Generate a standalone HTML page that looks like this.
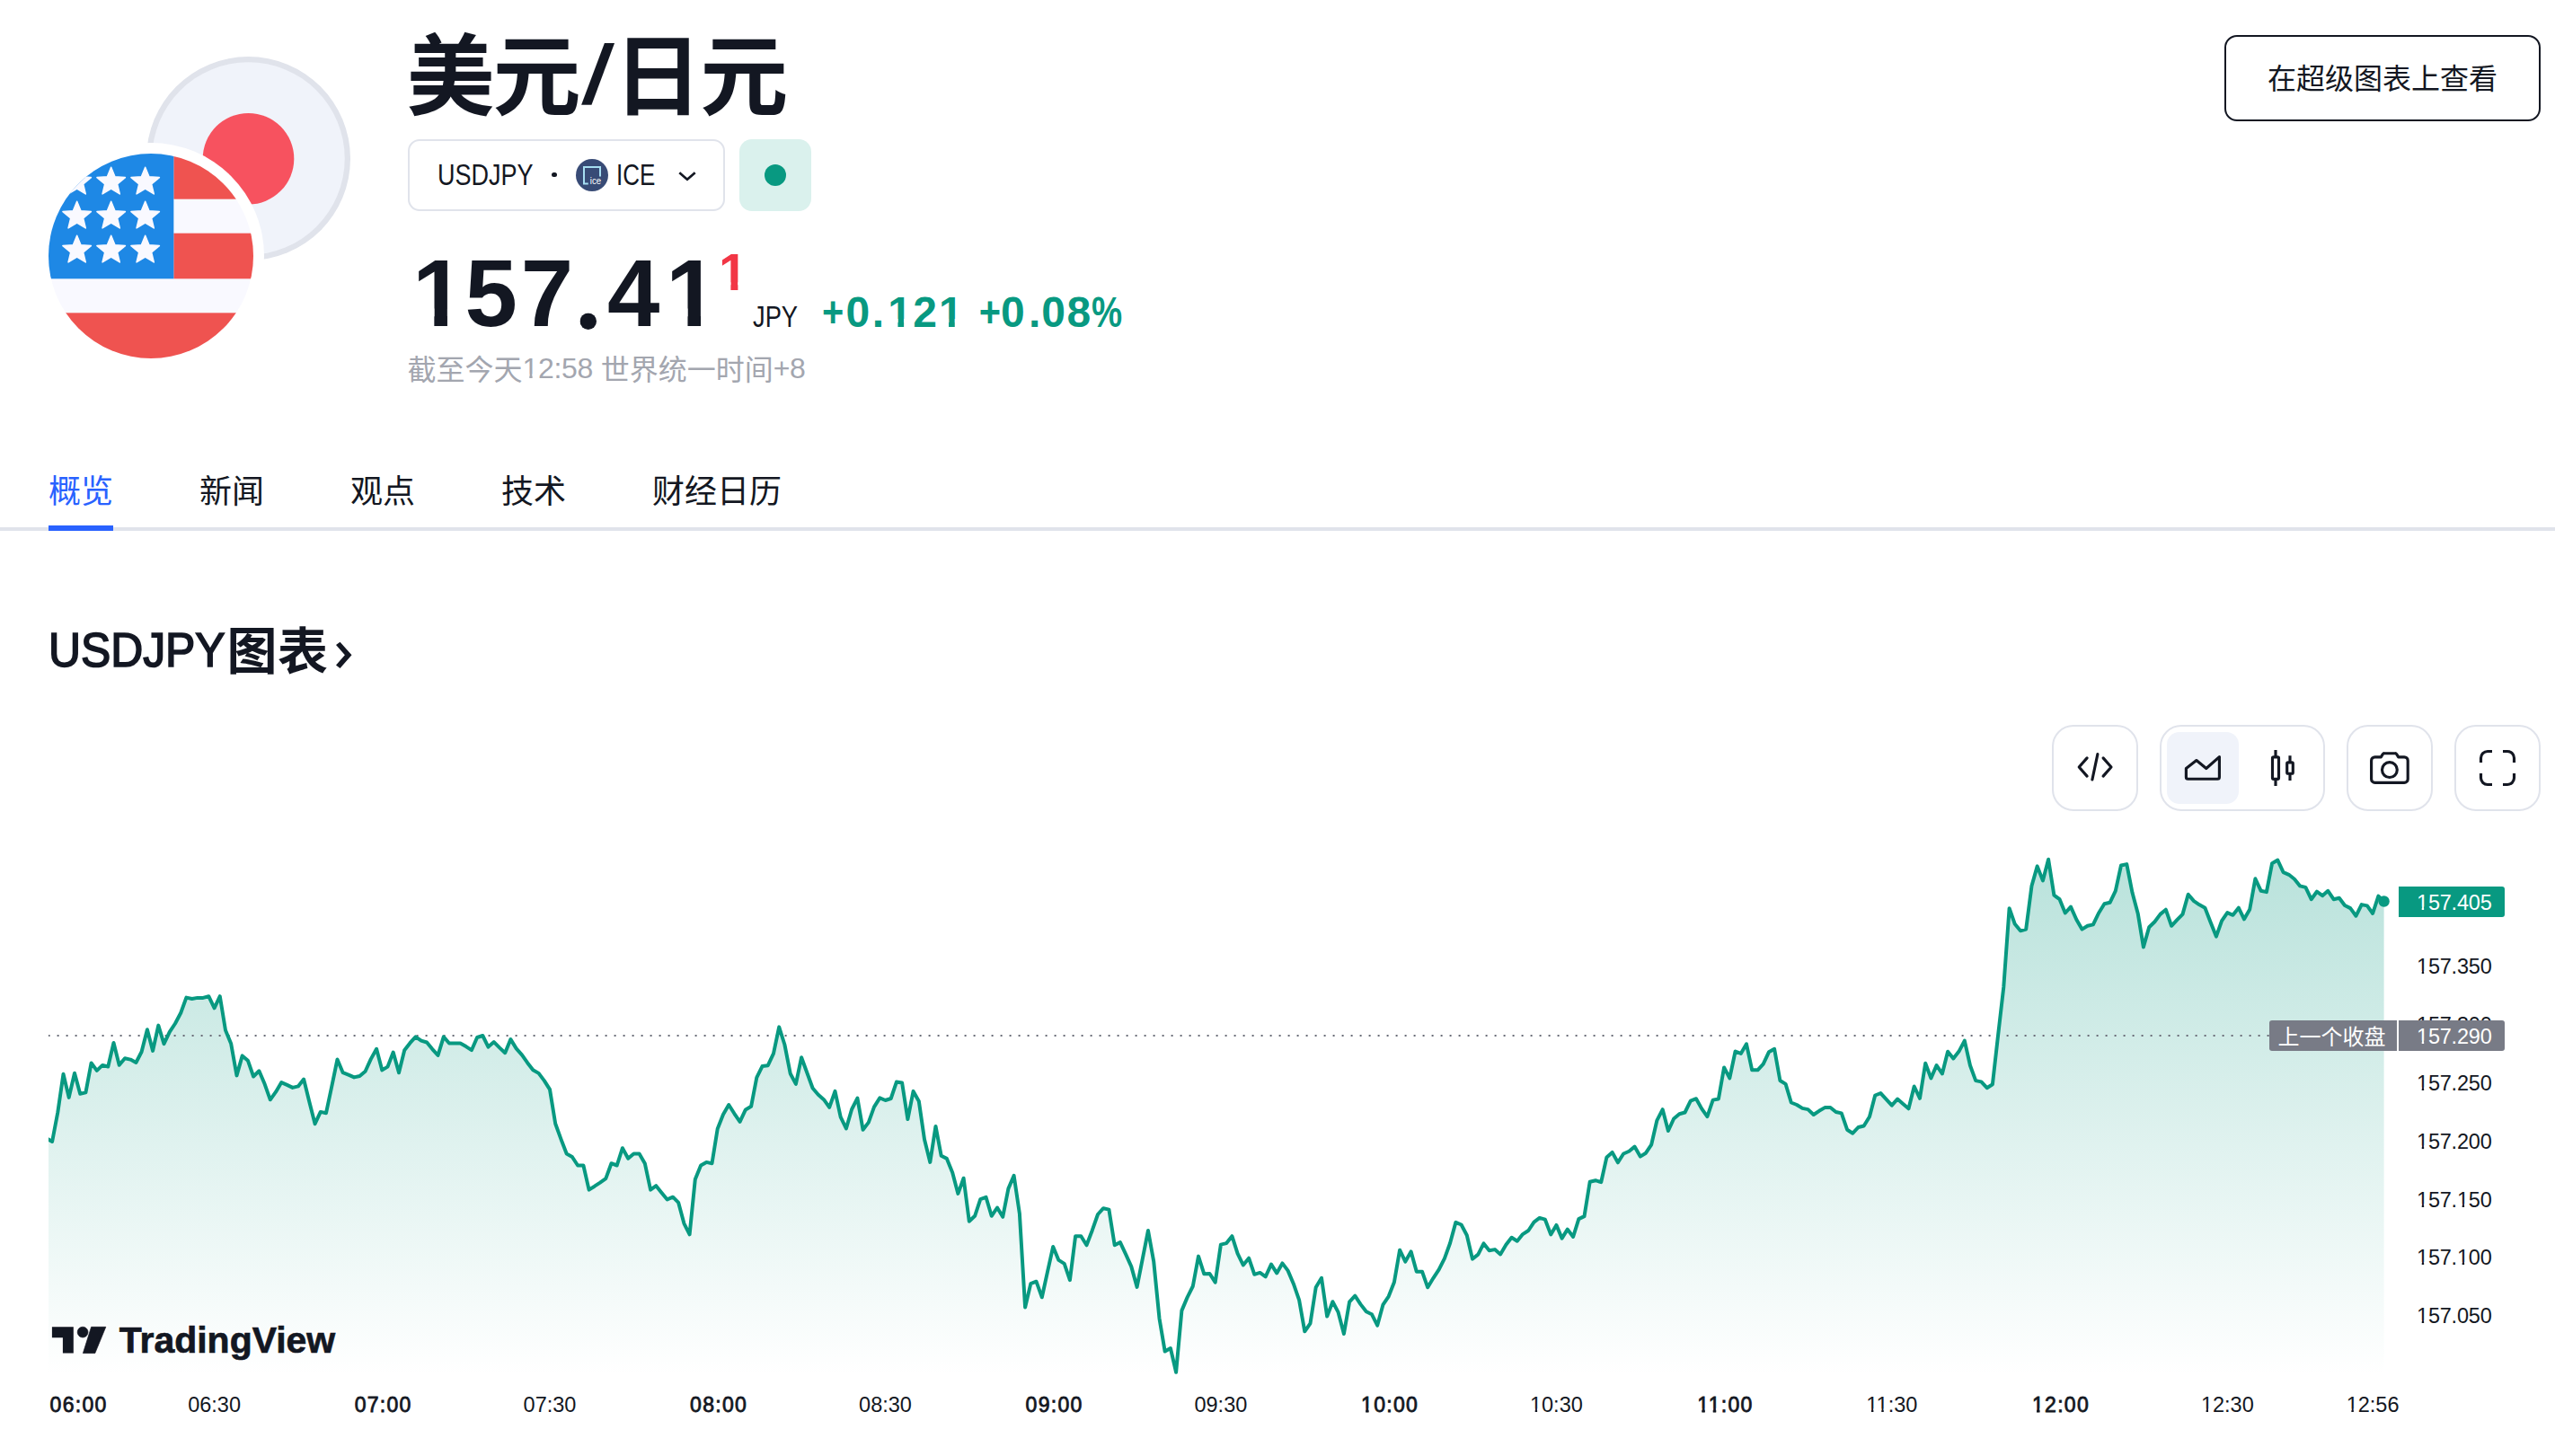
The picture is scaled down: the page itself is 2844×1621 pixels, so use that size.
<!DOCTYPE html>
<html lang="zh-CN"><head><meta charset="utf-8"><title>USDJPY</title>
<style>
*{box-sizing:border-box;margin:0;padding:0}
html,body{width:2844px;height:1621px;background:#fff;overflow:hidden}
body{position:relative;font-family:"Liberation Sans","Noto Sans CJK SC",sans-serif;color:#131722;-webkit-font-smoothing:antialiased}
.a{position:absolute;white-space:nowrap;line-height:1}
.g{position:relative}
.r1{clip-path:polygon(0 0,100% 0,100% .75em,.347em .75em,.347em 100%,.243em 100%,.243em .75em,0 .75em)}
.r1b{clip-path:polygon(0 0,100% 0,100% .75em,.37em .75em,.37em 100%,.22em 100%,.22em .75em,0 .75em)}
.f1,.g1,#sup{clip-path:polygon(0 0,100% 0,100% .72em,.372em .72em,.372em 100%,.233em 100%,.233em .72em,0 .72em)}
.lt{position:relative;top:-1.7px;letter-spacing:-.3px}
.sx{transform-origin:0 0;display:inline-block}
.tab{position:absolute;top:524px;font-size:36px;line-height:48px;white-space:nowrap}
.tm{position:absolute;top:1551.5px;font-size:23.5px;line-height:24px;white-space:nowrap;transform:translateX(-50%)}
.tm.b{font-weight:400;font-size:23px;-webkit-text-stroke:.8px #131722;letter-spacing:1.3px}
.px{position:absolute;left:2690px;font-size:23.5px;line-height:27px;white-space:nowrap;letter-spacing:-.2px}
.btn{position:absolute;top:807px;height:96px;border:2px solid #e0e3eb;border-radius:24px;background:#fff}
</style></head><body>

<!-- logos -->
<svg class="a" style="left:0;top:0" width="440" height="440" viewBox="0 0 440 440">
  <circle cx="276.5" cy="176.5" r="113.5" fill="#e0e3eb"/>
  <circle cx="276.5" cy="176.5" r="107.2" fill="#f0f3fa"/>
  <circle cx="276.5" cy="176.7" r="50.8" fill="#f7525f"/>
  <circle cx="168" cy="285" r="126" fill="#fff"/>
  <clipPath id="usc"><circle cx="9" cy="9" r="9"/></clipPath>
  <g transform="translate(54,171) scale(12.667)" clip-path="url(#usc)">
    <rect width="18" height="18" fill="#f9f9ff"/>
    <rect x="11" y="0" width="7" height="4" fill="#ef5350"/>
    <rect x="11" y="7" width="7" height="4" fill="#ef5350"/>
    <rect x="0" y="14" width="18" height="4" fill="#ef5350"/>
    <rect x="0" y="0" width="11" height="11" fill="#1e88e5"/>
    <path d="M2.50,1.20 L2.84,2.03 L3.74,2.10 L3.05,2.68 L3.26,3.55 L2.50,3.08 L1.74,3.55 L1.95,2.68 L1.26,2.10 L2.16,2.03ZM5.50,1.20 L5.84,2.03 L6.74,2.10 L6.05,2.68 L6.26,3.55 L5.50,3.08 L4.74,3.55 L4.95,2.68 L4.26,2.10 L5.16,2.03ZM8.50,1.20 L8.84,2.03 L9.74,2.10 L9.05,2.68 L9.26,3.55 L8.50,3.08 L7.74,3.55 L7.95,2.68 L7.26,2.10 L8.16,2.03ZM2.50,4.20 L2.84,5.03 L3.74,5.10 L3.05,5.68 L3.26,6.55 L2.50,6.08 L1.74,6.55 L1.95,5.68 L1.26,5.10 L2.16,5.03ZM5.50,4.20 L5.84,5.03 L6.74,5.10 L6.05,5.68 L6.26,6.55 L5.50,6.08 L4.74,6.55 L4.95,5.68 L4.26,5.10 L5.16,5.03ZM8.50,4.20 L8.84,5.03 L9.74,5.10 L9.05,5.68 L9.26,6.55 L8.50,6.08 L7.74,6.55 L7.95,5.68 L7.26,5.10 L8.16,5.03ZM2.50,7.20 L2.84,8.03 L3.74,8.10 L3.05,8.68 L3.26,9.55 L2.50,9.08 L1.74,9.55 L1.95,8.68 L1.26,8.10 L2.16,8.03ZM5.50,7.20 L5.84,8.03 L6.74,8.10 L6.05,8.68 L6.26,9.55 L5.50,9.08 L4.74,9.55 L4.95,8.68 L4.26,8.10 L5.16,8.03ZM8.50,7.20 L8.84,8.03 L9.74,8.10 L9.05,8.68 L9.26,9.55 L8.50,9.08 L7.74,9.55 L7.95,8.68 L7.26,8.10 L8.16,8.03Z" fill="#f9f9ff" stroke="#f9f9ff" stroke-width=".12" stroke-linejoin="round"/>
  </g>
</svg>

<!-- title -->
<div class="a" id="title" style="left:452.5px;top:31.4px;letter-spacing:-2px;font-size:98px;font-weight:700;line-height:110px">美元<span style="display:inline-block;width:38.7px;text-align:center;font-size:96px;transform:translateY(-3.5px) skewX(-10deg) scaleY(.963)">/</span>日元</div>

<!-- symbol pill -->
<div class="a" style="left:454px;top:155px;width:352.5px;height:79.5px;border:2px solid #e0e3eb;border-radius:13px"></div>
<div class="a" id="sym" style="left:486.8px;top:177px;font-size:32.5px;line-height:36px"><span class="sx" style="transform:scaleX(.831)">USDJPY</span></div>
<div class="a" style="left:614.1px;top:191.8px;width:5.6px;height:5.6px;border-radius:50%;background:#131722"></div>
<svg class="a" style="left:641px;top:176.8px" width="36" height="36" viewBox="0 0 36 36">
  <circle cx="18" cy="18" r="18" fill="#384b76"/>
  <path d="M27 19.5V9H9V27.5H13.8" fill="none" stroke="#a6def1" stroke-width="2"/>
  <text x="15.8" y="28.3" font-family='"Liberation Sans",sans-serif' font-size="10" fill="#fff" textLength="12.2" lengthAdjust="spacingAndGlyphs">ice</text>
</svg>
<div class="a" id="ice" style="left:685.5px;top:177px;font-size:32.5px;line-height:36px"><span class="sx" style="transform:scaleX(.80)">ICE</span></div>
<svg class="a" style="left:750px;top:182px" width="30" height="26" viewBox="750 182 30 26"><path d="M756.3 192.3L765 199.8L773.7 192.3" fill="none" stroke="#131722" stroke-width="2.7"/></svg>

<!-- market status -->
<div class="a" style="left:823px;top:155px;width:80px;height:79.5px;border-radius:14px;background:#daf1ed"></div>
<div class="a" style="left:850.8px;top:182.6px;width:24.4px;height:24.4px;border-radius:50%;background:#089981"></div>

<!-- price -->
<div class="a" id="price" style="left:455px;top:272px;font-size:105px;font-weight:700;line-height:110px;letter-spacing:4px"><span class="g g1" style="left:3.9px">1</span><span class="g" style="left:0px">5</span><span class="g" style="left:-.2px">7</span><span class="g gd" style="left:-5.75px;top:4.7px;font-size:132px;margin-right:-7.5px;line-height:0;clip-path:circle(9.25px at 18.3px 109.1px)">.</span><span class="g" style="left:0.5px">4</span><span class="g g1" style="left:3.2px">1</span></div>
<div class="a" id="sup" style="left:800px;top:272.8px;font-size:57.5px;font-weight:700;line-height:60px;color:#f23645">1</div>
<div class="a" id="jpy" style="left:838.2px;top:335px;font-size:32.5px;line-height:36px"><span class="sx" style="transform:scaleX(.84)">JPY</span></div>
<div class="a" id="chg" style="left:915px;top:321.5px;font-size:48px;font-weight:700;line-height:52px;color:#089981;letter-spacing:.3px"><span class="g" style="left:-1.7px;display:inline-block;transform:scaleX(.865)">+</span><span class="g" style="left:-1.8px">0</span><span class="g" style="left:0.5px">.</span><span class="g f1" style="left:4.3px">1</span><span class="g" style="left:5.2px">2</span><span class="g f1" style="left:6.9px">1</span></div>
<div class="a" id="chg2" style="left:1089px;top:321.5px;font-size:48px;font-weight:700;line-height:52px;color:#089981;letter-spacing:-.5px"><span class="g" style="left:-1.4px;display:inline-block;transform:scaleX(.865)">+</span><span class="g" style="left:-2.5px">0</span><span class="g" style="left:2.2px">.</span><span class="g" style="left:3.6px">0</span><span class="g" style="left:5.7px">8</span><span class="g" style="left:7.2px;display:inline-block;transform:scaleX(.8);transform-origin:0 50%">%</span></div>

<!-- date -->
<div class="a" id="date" style="left:453.5px;top:392px;font-size:32px;line-height:40px;color:#a3a6af">截至今天<span class="lt"><span class="r1">1</span>2:58 </span>世界统一时间<span class="lt">+8</span></div>

<!-- top right button -->
<div class="a" style="left:2476px;top:39px;width:352px;height:96px;border:2px solid #131722;border-radius:14px"></div>
<div class="a" id="btntxt" style="left:2524px;top:65.8px;font-size:32px;line-height:44px">在超级图表上查看</div>

<!-- tabs -->
<div class="tab" style="left:54px;color:#2962ff">概览</div>
<div class="tab" style="left:222px">新闻</div>
<div class="tab" style="left:390px">观点</div>
<div class="tab" style="left:558px">技术</div>
<div class="tab" style="left:726px">财经日历</div>
<div class="a" style="left:0;top:587px;width:2844px;height:4px;background:#e0e3eb"></div>
<div class="a" style="left:54px;top:585px;width:72px;height:6px;background:#2962ff"></div>

<!-- chart title -->
<div class="a" id="ct1" style="left:54px;top:692.2px;font-size:53px;font-weight:400;-webkit-text-stroke:1.7px #131722;line-height:64px"><span class="sx" style="transform:scaleX(.94)">USDJPY</span></div>
<div class="a" id="ct2" style="left:252.4px;top:690.7px;font-size:56px;font-weight:700;line-height:70px;letter-spacing:.5px">图表</div>
<svg class="a" style="left:365px;top:705px" width="40" height="50" viewBox="365 705 40 50"><path d="M374 718.1L378.5 714.8L391.5 729.3L378.5 744L374 740.6L383.9 729.3Z" fill="#131722"/></svg>

<!-- toolbar -->
<div class="btn" style="left:2284px;width:96px"></div>
<div class="btn" style="left:2404px;width:184px"></div>
<div class="a" style="left:2412px;top:815px;width:80px;height:80px;border-radius:14px;background:#f0f3fa"></div>
<div class="btn" style="left:2612px;width:96px"></div>
<div class="btn" style="left:2732px;width:96px"></div>
<svg class="a" style="left:2284px;top:807px" width="544" height="96" viewBox="2284 807 544 96" fill="none" stroke="#131722" stroke-width="3.15">
  <g stroke-linecap="round" stroke-linejoin="round">
    <path d="M2323.1 843.9L2314.2 854L2323.1 864.1M2341.1 843.9L2350 854L2341.1 864.1M2334.9 839.6L2328.9 868"/>
    <path d="M2433.4 865.2V855.4L2444.9 846.5L2455.8 855.5L2470.4 842.6V865.2A2 2 0 0 1 2468.4 867.2H2435.4A2 2 0 0 1 2433.4 865.2Z"/>
  </g>
  <rect x="2529.5" y="842.8" width="7" height="24.5" rx="1.3"/>
  <path d="M2533 835.1V842M2533 868V874.9M2549 841.2V848M2549 862V868.9"/>
  <rect x="2545.7" y="848.8" width="6.6" height="12.4" rx="1.3"/>
  <path d="M2643.6 842.8H2650.3L2652.3 839.6A2 2 0 0 1 2654 838.7H2666A2 2 0 0 1 2667.7 839.6L2669.7 842.8H2676.2A4 4 0 0 1 2680.2 846.8V867.4A4 4 0 0 1 2676.2 871.4H2643.6A4 4 0 0 1 2639.6 867.4V846.8A4 4 0 0 1 2643.6 842.8Z" stroke-linejoin="round"/>
  <circle cx="2659.9" cy="857.1" r="8.4"/>
  <path d="M2761.5 849V844A7.5 7.5 0 0 1 2769 836.5H2774M2786 836.5H2791A7.5 7.5 0 0 1 2798.5 844V849M2798.5 861V866A7.5 7.5 0 0 1 2791 873.5H2786M2774 873.5H2769A7.5 7.5 0 0 1 2761.5 866V861"/>
</svg>

<!-- chart -->
<svg class="a" style="left:0;top:920px" width="2844" height="640" viewBox="0 920 2844 640">
  <defs>
    <linearGradient id="g" x1="0" y1="925" x2="0" y2="1531" gradientUnits="userSpaceOnUse">
      <stop offset="0" stop-color="#089981" stop-opacity=".3"/>
      <stop offset="1" stop-color="#089981" stop-opacity="0"/>
    </linearGradient>
    <clipPath id="cc"><rect x="54" y="920" width="2610" height="620"/></clipPath>
  </defs>
  <g clip-path="url(#cc)">
    <path d="M51.8,1267.3 L58.1,1271.0 L64.3,1238.4 L70.5,1195.8 L76.7,1221.9 L83.0,1194.7 L89.2,1217.7 L95.4,1216.4 L101.6,1183.4 L107.8,1191.9 L114.1,1185.9 L120.3,1187.5 L126.5,1161.0 L132.7,1185.7 L139.0,1178.3 L145.2,1179.6 L151.4,1183.0 L157.6,1171.0 L163.9,1146.3 L170.1,1169.9 L176.3,1141.6 L182.5,1162.1 L188.8,1148.8 L195.0,1139.5 L201.2,1127.8 L207.4,1110.6 L213.7,1112.0 L219.9,1110.9 L226.1,1110.9 L232.3,1109.2 L238.6,1122.3 L244.8,1109.2 L251.0,1147.0 L257.2,1162.1 L263.5,1197.4 L269.7,1175.4 L275.9,1180.7 L282.1,1198.5 L288.4,1192.3 L294.6,1206.8 L300.8,1224.3 L307.0,1215.7 L313.3,1205.1 L319.5,1207.9 L325.7,1210.9 L331.9,1209.4 L338.1,1201.5 L344.4,1227.1 L350.6,1251.2 L356.8,1237.9 L363.0,1239.2 L369.3,1209.3 L375.5,1179.5 L381.7,1194.2 L387.9,1196.6 L394.2,1199.4 L400.4,1198.0 L406.6,1192.8 L412.8,1179.1 L419.1,1167.8 L425.3,1191.4 L431.5,1187.6 L437.7,1171.5 L444.0,1194.2 L450.2,1169.2 L456.4,1161.2 L462.6,1154.3 L468.9,1158.7 L475.1,1160.5 L481.3,1168.1 L487.5,1174.9 L493.8,1154.3 L500.0,1161.5 L506.2,1161.5 L512.4,1161.5 L518.7,1165.1 L524.9,1169.2 L531.1,1155.0 L537.3,1153.0 L543.5,1165.6 L549.8,1160.1 L556.0,1166.4 L562.2,1172.2 L568.4,1157.1 L574.7,1167.4 L580.9,1174.3 L587.1,1183.2 L593.3,1191.2 L599.6,1194.9 L605.8,1203.1 L612.0,1212.9 L618.2,1251.0 L624.5,1268.4 L630.7,1284.5 L636.9,1288.0 L643.1,1297.5 L649.4,1297.5 L655.6,1324.6 L661.8,1320.7 L668.0,1316.6 L674.3,1312.1 L680.5,1295.2 L686.7,1297.5 L692.9,1278.2 L699.2,1289.8 L705.4,1284.5 L711.6,1284.5 L717.8,1295.2 L724.1,1324.6 L730.3,1320.2 L736.5,1327.9 L742.7,1335.4 L749.0,1332.7 L755.2,1338.9 L761.4,1362.1 L767.6,1374.3 L773.8,1313.0 L780.1,1297.5 L786.3,1293.9 L792.5,1295.2 L798.7,1256.8 L805.0,1240.7 L811.2,1230.0 L817.4,1239.8 L823.6,1248.8 L829.9,1235.4 L836.1,1231.8 L842.3,1199.6 L848.5,1187.1 L854.8,1186.2 L861.0,1172.9 L867.2,1143.4 L873.4,1163.0 L879.7,1195.2 L885.9,1206.9 L892.1,1177.2 L898.3,1194.3 L904.6,1211.5 L910.8,1218.7 L917.0,1224.2 L923.2,1232.9 L929.5,1214.9 L935.7,1243.6 L941.9,1256.4 L948.1,1235.0 L954.4,1222.6 L960.6,1257.8 L966.8,1249.6 L973.0,1232.4 L979.3,1222.4 L985.5,1225.0 L991.7,1223.0 L997.9,1204.6 L1004.1,1205.5 L1010.4,1246.1 L1016.6,1214.9 L1022.8,1225.9 L1029.0,1268.5 L1035.3,1293.9 L1041.5,1253.9 L1047.7,1286.8 L1053.9,1289.9 L1060.2,1305.4 L1066.4,1328.9 L1072.6,1311.7 L1078.8,1359.8 L1085.1,1353.8 L1091.3,1335.1 L1097.5,1332.8 L1103.7,1353.8 L1110.0,1344.5 L1116.2,1354.8 L1122.4,1323.4 L1128.6,1308.8 L1134.9,1351.3 L1141.1,1455.5 L1147.3,1429.1 L1153.5,1426.7 L1159.8,1444.3 L1166.0,1415.9 L1172.2,1388.0 L1178.4,1402.9 L1184.7,1406.9 L1190.9,1425.2 L1197.1,1376.2 L1203.3,1376.2 L1209.5,1386.3 L1215.8,1369.7 L1222.0,1352.0 L1228.2,1345.2 L1234.4,1346.6 L1240.7,1386.3 L1246.9,1383.1 L1253.1,1396.4 L1259.3,1410.1 L1265.6,1432.9 L1271.8,1401.4 L1278.0,1370.0 L1284.2,1404.3 L1290.5,1467.8 L1296.7,1504.6 L1302.9,1501.0 L1309.1,1527.7 L1315.4,1459.1 L1321.6,1444.4 L1327.8,1432.0 L1334.0,1398.6 L1340.3,1418.3 L1346.5,1418.0 L1352.7,1427.7 L1358.9,1385.6 L1365.2,1384.1 L1371.4,1376.2 L1377.6,1395.7 L1383.8,1408.4 L1390.1,1400.7 L1396.3,1418.8 L1402.5,1416.9 L1408.7,1421.4 L1415.0,1407.6 L1421.2,1417.4 L1427.4,1406.4 L1433.6,1414.6 L1439.8,1429.2 L1446.1,1447.4 L1452.3,1482.3 L1458.5,1473.3 L1464.7,1433.3 L1471.0,1422.8 L1477.2,1465.6 L1483.4,1449.2 L1489.6,1460.9 L1495.9,1485.0 L1502.1,1449.4 L1508.3,1442.7 L1514.5,1452.1 L1520.8,1460.3 L1527.0,1463.3 L1533.2,1475.6 L1539.4,1452.7 L1545.7,1443.3 L1551.9,1427.5 L1558.1,1391.7 L1564.3,1404.6 L1570.6,1393.4 L1576.8,1415.7 L1583.0,1415.7 L1589.2,1433.3 L1595.5,1422.8 L1601.7,1413.4 L1607.9,1401.1 L1614.1,1384.0 L1620.4,1360.9 L1626.6,1363.5 L1632.8,1375.2 L1639.0,1401.6 L1645.3,1396.7 L1651.5,1384.4 L1657.7,1392.2 L1663.9,1391.1 L1670.1,1396.4 L1676.4,1385.8 L1682.6,1377.8 L1688.8,1381.7 L1695.0,1374.1 L1701.3,1370.0 L1707.5,1360.6 L1713.7,1355.9 L1719.9,1357.7 L1726.2,1374.4 L1732.4,1363.9 L1738.6,1378.6 L1744.8,1368.6 L1751.1,1377.0 L1757.3,1357.1 L1763.5,1354.1 L1769.7,1315.7 L1776.0,1314.2 L1782.2,1316.2 L1788.4,1288.4 L1794.6,1282.9 L1800.9,1294.3 L1807.1,1284.5 L1813.3,1281.7 L1819.5,1276.6 L1825.8,1287.6 L1832.0,1283.7 L1838.2,1274.3 L1844.4,1247.3 L1850.7,1235.2 L1856.9,1259.0 L1863.1,1245.5 L1869.3,1240.2 L1875.5,1238.5 L1881.8,1225.6 L1888.0,1223.2 L1894.2,1234.4 L1900.4,1243.2 L1906.7,1224.6 L1912.9,1223.5 L1919.1,1188.4 L1925.3,1200.4 L1931.6,1170.5 L1937.8,1172.9 L1944.0,1162.3 L1950.2,1191.3 L1956.5,1191.3 L1962.7,1184.6 L1968.9,1171.3 L1975.1,1167.8 L1981.4,1203.0 L1987.6,1206.9 L1993.8,1227.5 L2000.0,1230.0 L2006.3,1233.9 L2012.5,1235.1 L2018.7,1241.0 L2024.9,1236.8 L2031.2,1233.1 L2037.4,1233.0 L2043.6,1238.0 L2049.8,1239.4 L2056.1,1257.7 L2062.3,1261.7 L2068.5,1255.0 L2074.7,1253.5 L2081.0,1243.3 L2087.2,1219.5 L2093.4,1217.1 L2099.6,1223.9 L2105.8,1230.7 L2112.1,1223.6 L2118.3,1228.9 L2124.5,1234.3 L2130.7,1209.5 L2137.0,1222.8 L2143.2,1183.8 L2149.4,1200.4 L2155.6,1186.1 L2161.9,1195.4 L2168.1,1170.7 L2174.3,1178.5 L2180.5,1170.6 L2186.8,1158.6 L2193.0,1186.2 L2199.2,1203.1 L2205.4,1204.4 L2211.7,1211.2 L2217.9,1207.3 L2224.1,1152.5 L2230.3,1098.7 L2236.6,1011.2 L2242.8,1028.8 L2249.0,1036.2 L2255.2,1034.6 L2261.5,986.2 L2267.7,964.4 L2273.9,980.4 L2280.1,956.7 L2286.4,996.7 L2292.6,1001.2 L2298.8,1016.5 L2305.0,1009.6 L2311.3,1023.7 L2317.5,1034.6 L2323.7,1030.8 L2329.9,1029.4 L2336.1,1016.5 L2342.4,1006.3 L2348.6,1004.8 L2354.8,991.9 L2361.0,963.5 L2367.3,962.1 L2373.5,993.8 L2379.7,1016.9 L2385.9,1054.4 L2392.2,1032.3 L2398.4,1026.2 L2404.6,1017.9 L2410.8,1012.7 L2417.1,1030.8 L2423.3,1024.2 L2429.5,1017.9 L2435.7,995.8 L2442.0,1003.1 L2448.2,1007.3 L2454.4,1010.7 L2460.6,1026.8 L2466.9,1042.6 L2473.1,1025.1 L2479.3,1016.1 L2485.5,1018.8 L2491.8,1010.7 L2498.0,1023.3 L2504.2,1012.5 L2510.4,978.3 L2516.7,991.8 L2522.9,993.1 L2529.1,961.2 L2535.3,957.6 L2541.6,971.1 L2547.8,973.8 L2554.0,978.7 L2560.2,986.4 L2566.4,987.9 L2572.7,1001.2 L2578.9,992.7 L2585.1,997.2 L2591.3,991.8 L2597.6,1001.2 L2603.8,999.7 L2610.0,1008.0 L2616.2,1011.1 L2622.5,1019.7 L2628.7,1007.1 L2634.9,1008.4 L2641.1,1017.0 L2647.4,997.6 L2653.6,1003.5 L2653.6,1531 L51.8,1531 Z" fill="url(#g)"/>
    <line x1="53.6" y1="1153" x2="2530" y2="1153" stroke="#6a6d78" stroke-width="2" stroke-dasharray="2 8"/>
    <path d="M51.8,1267.3 L58.1,1271.0 L64.3,1238.4 L70.5,1195.8 L76.7,1221.9 L83.0,1194.7 L89.2,1217.7 L95.4,1216.4 L101.6,1183.4 L107.8,1191.9 L114.1,1185.9 L120.3,1187.5 L126.5,1161.0 L132.7,1185.7 L139.0,1178.3 L145.2,1179.6 L151.4,1183.0 L157.6,1171.0 L163.9,1146.3 L170.1,1169.9 L176.3,1141.6 L182.5,1162.1 L188.8,1148.8 L195.0,1139.5 L201.2,1127.8 L207.4,1110.6 L213.7,1112.0 L219.9,1110.9 L226.1,1110.9 L232.3,1109.2 L238.6,1122.3 L244.8,1109.2 L251.0,1147.0 L257.2,1162.1 L263.5,1197.4 L269.7,1175.4 L275.9,1180.7 L282.1,1198.5 L288.4,1192.3 L294.6,1206.8 L300.8,1224.3 L307.0,1215.7 L313.3,1205.1 L319.5,1207.9 L325.7,1210.9 L331.9,1209.4 L338.1,1201.5 L344.4,1227.1 L350.6,1251.2 L356.8,1237.9 L363.0,1239.2 L369.3,1209.3 L375.5,1179.5 L381.7,1194.2 L387.9,1196.6 L394.2,1199.4 L400.4,1198.0 L406.6,1192.8 L412.8,1179.1 L419.1,1167.8 L425.3,1191.4 L431.5,1187.6 L437.7,1171.5 L444.0,1194.2 L450.2,1169.2 L456.4,1161.2 L462.6,1154.3 L468.9,1158.7 L475.1,1160.5 L481.3,1168.1 L487.5,1174.9 L493.8,1154.3 L500.0,1161.5 L506.2,1161.5 L512.4,1161.5 L518.7,1165.1 L524.9,1169.2 L531.1,1155.0 L537.3,1153.0 L543.5,1165.6 L549.8,1160.1 L556.0,1166.4 L562.2,1172.2 L568.4,1157.1 L574.7,1167.4 L580.9,1174.3 L587.1,1183.2 L593.3,1191.2 L599.6,1194.9 L605.8,1203.1 L612.0,1212.9 L618.2,1251.0 L624.5,1268.4 L630.7,1284.5 L636.9,1288.0 L643.1,1297.5 L649.4,1297.5 L655.6,1324.6 L661.8,1320.7 L668.0,1316.6 L674.3,1312.1 L680.5,1295.2 L686.7,1297.5 L692.9,1278.2 L699.2,1289.8 L705.4,1284.5 L711.6,1284.5 L717.8,1295.2 L724.1,1324.6 L730.3,1320.2 L736.5,1327.9 L742.7,1335.4 L749.0,1332.7 L755.2,1338.9 L761.4,1362.1 L767.6,1374.3 L773.8,1313.0 L780.1,1297.5 L786.3,1293.9 L792.5,1295.2 L798.7,1256.8 L805.0,1240.7 L811.2,1230.0 L817.4,1239.8 L823.6,1248.8 L829.9,1235.4 L836.1,1231.8 L842.3,1199.6 L848.5,1187.1 L854.8,1186.2 L861.0,1172.9 L867.2,1143.4 L873.4,1163.0 L879.7,1195.2 L885.9,1206.9 L892.1,1177.2 L898.3,1194.3 L904.6,1211.5 L910.8,1218.7 L917.0,1224.2 L923.2,1232.9 L929.5,1214.9 L935.7,1243.6 L941.9,1256.4 L948.1,1235.0 L954.4,1222.6 L960.6,1257.8 L966.8,1249.6 L973.0,1232.4 L979.3,1222.4 L985.5,1225.0 L991.7,1223.0 L997.9,1204.6 L1004.1,1205.5 L1010.4,1246.1 L1016.6,1214.9 L1022.8,1225.9 L1029.0,1268.5 L1035.3,1293.9 L1041.5,1253.9 L1047.7,1286.8 L1053.9,1289.9 L1060.2,1305.4 L1066.4,1328.9 L1072.6,1311.7 L1078.8,1359.8 L1085.1,1353.8 L1091.3,1335.1 L1097.5,1332.8 L1103.7,1353.8 L1110.0,1344.5 L1116.2,1354.8 L1122.4,1323.4 L1128.6,1308.8 L1134.9,1351.3 L1141.1,1455.5 L1147.3,1429.1 L1153.5,1426.7 L1159.8,1444.3 L1166.0,1415.9 L1172.2,1388.0 L1178.4,1402.9 L1184.7,1406.9 L1190.9,1425.2 L1197.1,1376.2 L1203.3,1376.2 L1209.5,1386.3 L1215.8,1369.7 L1222.0,1352.0 L1228.2,1345.2 L1234.4,1346.6 L1240.7,1386.3 L1246.9,1383.1 L1253.1,1396.4 L1259.3,1410.1 L1265.6,1432.9 L1271.8,1401.4 L1278.0,1370.0 L1284.2,1404.3 L1290.5,1467.8 L1296.7,1504.6 L1302.9,1501.0 L1309.1,1527.7 L1315.4,1459.1 L1321.6,1444.4 L1327.8,1432.0 L1334.0,1398.6 L1340.3,1418.3 L1346.5,1418.0 L1352.7,1427.7 L1358.9,1385.6 L1365.2,1384.1 L1371.4,1376.2 L1377.6,1395.7 L1383.8,1408.4 L1390.1,1400.7 L1396.3,1418.8 L1402.5,1416.9 L1408.7,1421.4 L1415.0,1407.6 L1421.2,1417.4 L1427.4,1406.4 L1433.6,1414.6 L1439.8,1429.2 L1446.1,1447.4 L1452.3,1482.3 L1458.5,1473.3 L1464.7,1433.3 L1471.0,1422.8 L1477.2,1465.6 L1483.4,1449.2 L1489.6,1460.9 L1495.9,1485.0 L1502.1,1449.4 L1508.3,1442.7 L1514.5,1452.1 L1520.8,1460.3 L1527.0,1463.3 L1533.2,1475.6 L1539.4,1452.7 L1545.7,1443.3 L1551.9,1427.5 L1558.1,1391.7 L1564.3,1404.6 L1570.6,1393.4 L1576.8,1415.7 L1583.0,1415.7 L1589.2,1433.3 L1595.5,1422.8 L1601.7,1413.4 L1607.9,1401.1 L1614.1,1384.0 L1620.4,1360.9 L1626.6,1363.5 L1632.8,1375.2 L1639.0,1401.6 L1645.3,1396.7 L1651.5,1384.4 L1657.7,1392.2 L1663.9,1391.1 L1670.1,1396.4 L1676.4,1385.8 L1682.6,1377.8 L1688.8,1381.7 L1695.0,1374.1 L1701.3,1370.0 L1707.5,1360.6 L1713.7,1355.9 L1719.9,1357.7 L1726.2,1374.4 L1732.4,1363.9 L1738.6,1378.6 L1744.8,1368.6 L1751.1,1377.0 L1757.3,1357.1 L1763.5,1354.1 L1769.7,1315.7 L1776.0,1314.2 L1782.2,1316.2 L1788.4,1288.4 L1794.6,1282.9 L1800.9,1294.3 L1807.1,1284.5 L1813.3,1281.7 L1819.5,1276.6 L1825.8,1287.6 L1832.0,1283.7 L1838.2,1274.3 L1844.4,1247.3 L1850.7,1235.2 L1856.9,1259.0 L1863.1,1245.5 L1869.3,1240.2 L1875.5,1238.5 L1881.8,1225.6 L1888.0,1223.2 L1894.2,1234.4 L1900.4,1243.2 L1906.7,1224.6 L1912.9,1223.5 L1919.1,1188.4 L1925.3,1200.4 L1931.6,1170.5 L1937.8,1172.9 L1944.0,1162.3 L1950.2,1191.3 L1956.5,1191.3 L1962.7,1184.6 L1968.9,1171.3 L1975.1,1167.8 L1981.4,1203.0 L1987.6,1206.9 L1993.8,1227.5 L2000.0,1230.0 L2006.3,1233.9 L2012.5,1235.1 L2018.7,1241.0 L2024.9,1236.8 L2031.2,1233.1 L2037.4,1233.0 L2043.6,1238.0 L2049.8,1239.4 L2056.1,1257.7 L2062.3,1261.7 L2068.5,1255.0 L2074.7,1253.5 L2081.0,1243.3 L2087.2,1219.5 L2093.4,1217.1 L2099.6,1223.9 L2105.8,1230.7 L2112.1,1223.6 L2118.3,1228.9 L2124.5,1234.3 L2130.7,1209.5 L2137.0,1222.8 L2143.2,1183.8 L2149.4,1200.4 L2155.6,1186.1 L2161.9,1195.4 L2168.1,1170.7 L2174.3,1178.5 L2180.5,1170.6 L2186.8,1158.6 L2193.0,1186.2 L2199.2,1203.1 L2205.4,1204.4 L2211.7,1211.2 L2217.9,1207.3 L2224.1,1152.5 L2230.3,1098.7 L2236.6,1011.2 L2242.8,1028.8 L2249.0,1036.2 L2255.2,1034.6 L2261.5,986.2 L2267.7,964.4 L2273.9,980.4 L2280.1,956.7 L2286.4,996.7 L2292.6,1001.2 L2298.8,1016.5 L2305.0,1009.6 L2311.3,1023.7 L2317.5,1034.6 L2323.7,1030.8 L2329.9,1029.4 L2336.1,1016.5 L2342.4,1006.3 L2348.6,1004.8 L2354.8,991.9 L2361.0,963.5 L2367.3,962.1 L2373.5,993.8 L2379.7,1016.9 L2385.9,1054.4 L2392.2,1032.3 L2398.4,1026.2 L2404.6,1017.9 L2410.8,1012.7 L2417.1,1030.8 L2423.3,1024.2 L2429.5,1017.9 L2435.7,995.8 L2442.0,1003.1 L2448.2,1007.3 L2454.4,1010.7 L2460.6,1026.8 L2466.9,1042.6 L2473.1,1025.1 L2479.3,1016.1 L2485.5,1018.8 L2491.8,1010.7 L2498.0,1023.3 L2504.2,1012.5 L2510.4,978.3 L2516.7,991.8 L2522.9,993.1 L2529.1,961.2 L2535.3,957.6 L2541.6,971.1 L2547.8,973.8 L2554.0,978.7 L2560.2,986.4 L2566.4,987.9 L2572.7,1001.2 L2578.9,992.7 L2585.1,997.2 L2591.3,991.8 L2597.6,1001.2 L2603.8,999.7 L2610.0,1008.0 L2616.2,1011.1 L2622.5,1019.7 L2628.7,1007.1 L2634.9,1008.4 L2641.1,1017.0 L2647.4,997.6 L2653.6,1003.5" fill="none" stroke="#089981" stroke-width="4" stroke-linejoin="round" stroke-linecap="round"/>
    <circle cx="2653.6" cy="1003.5" r="6.2" fill="#089981"/>
  </g>
</svg>

<!-- price axis -->
<div class="px" style="top:1063.3px"><span class="r1">1</span>57.350</div><div class="px" style="top:1128.1px"><span class="r1">1</span>57.300</div><div class="px" style="top:1192.9px"><span class="r1">1</span>57.250</div><div class="px" style="top:1257.7px"><span class="r1">1</span>57.200</div><div class="px" style="top:1322.5px"><span class="r1">1</span>57.<span class="r1">1</span>50</div><div class="px" style="top:1387.3px"><span class="r1">1</span>57.<span class="r1">1</span>00</div><div class="px" style="top:1452.1px"><span class="r1">1</span>57.050</div>
<div class="a" style="left:2670px;top:987px;width:118px;height:34px;background:#089981;border-radius:0 3px 3px 0"></div>
<div class="px" style="top:991.8px;color:#fff"><span class="r1">1</span>57.405</div>
<div class="a" style="left:2526px;top:1136px;width:142px;height:34px;background:#787b86;border-radius:3px 0 0 3px"></div>
<div class="a" style="left:2670px;top:1136px;width:118px;height:34px;background:#787b86;border-radius:0 3px 3px 0"></div>
<div class="a" id="prevlab" style="left:2535.5px;top:1138.5px;font-size:24px;line-height:32px;color:#fff">上一个收盘</div>
<div class="px" style="top:1140.8px;color:#fff"><span class="r1">1</span>57.290</div>

<!-- time axis -->
<div class="tm b" style="left:55.6px;transform:none">06:00</div><div class="tm" style="left:238.6px">06:30</div><div class="tm b" style="left:426.7px">07:00</div><div class="tm" style="left:612.0px">07:30</div><div class="tm b" style="left:800.1px">08:00</div><div class="tm" style="left:985.5px">08:30</div><div class="tm b" style="left:1173.6px">09:00</div><div class="tm" style="left:1358.9px">09:30</div><div class="tm b" style="left:1547.1px"><span class="r1b">1</span>0:00</div><div class="tm" style="left:1732.4px"><span class="r1">1</span>0:30</div><div class="tm b" style="left:1920.5px"><span class="r1b">1</span><span class="r1b">1</span>:00</div><div class="tm" style="left:2105.8px"><span class="r1">1</span><span class="r1">1</span>:30</div><div class="tm b" style="left:2294.0px"><span class="r1b">1</span>2:00</div><div class="tm" style="left:2479.3px"><span class="r1">1</span>2:30</div><div class="tm" style="left:2641.1px"><span class="r1">1</span>2:56</div>

<!-- TradingView logo -->
<svg class="a" style="left:40px;top:1460px" width="360" height="70" viewBox="40 1460 360 70">
  <g stroke="#fff" stroke-width="5" stroke-linejoin="round" fill="#fff" opacity=".9">
    <path d="M57.9 1477.3H81.8V1506.5H69.9V1489.2H57.9Z"/>
    <circle cx="92.1" cy="1483.1" r="5.9"/>
    <path d="M101.6 1477.3H117.8L105.8 1506.5H92.4Z"/>
    <text x="132.8" y="1506.3" font-family='"Liberation Sans",sans-serif' font-size="40.4" font-weight="700" textLength="240.4" lengthAdjust="spacingAndGlyphs">TradingView</text>
  </g>
  <g fill="#131722" stroke="#131722" stroke-width=".7">
    <path d="M57.9 1477.3H81.8V1506.5H69.9V1489.2H57.9Z" stroke="none"/>
    <circle cx="92.1" cy="1483.1" r="5.9"/>
    <path d="M101.6 1477.3H117.8L105.8 1506.5H92.4Z"/>
    <text x="132.8" y="1506.3" font-family='"Liberation Sans",sans-serif' font-size="40.4" font-weight="700" textLength="240.4" lengthAdjust="spacingAndGlyphs">TradingView</text>
  </g>
</svg>

</body></html>
